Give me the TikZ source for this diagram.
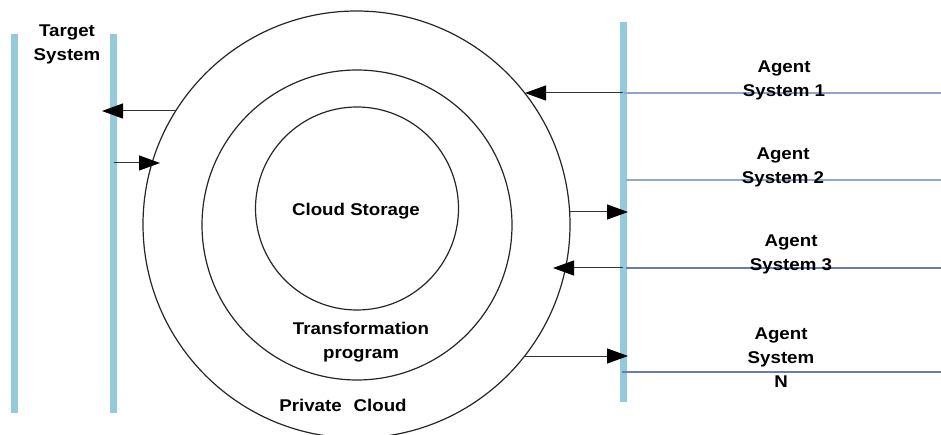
\documentclass[tikz,border=0pt]{standalone}
\usepackage{fontspec}
\setmainfont{Liberation Sans}[FakeStretch=1.1]
\usetikzlibrary{arrows.meta}
\definecolor{barblue}{HTML}{94CBDB}
\definecolor{lineblue}{HTML}{8FA8CC}
\definecolor{lineblueb}{HTML}{6680AA}
\begin{document}
\begin{tikzpicture}[x=1pt,y=-1pt,
  bar/.style={barblue, line width=7pt},
  agentline/.style={lineblue, line width=1.6pt},
  agentlineb/.style={lineblueb, line width=1.6pt},
  ring/.style={circle, draw=black!85, line width=1.2pt, inner sep=0pt},
  flow/.style={black!80, line width=1pt, -{Triangle[length=21pt,width=15pt,fill=black,color=black]}},
  lbl/.style={font=\fontsize{17}{24}\selectfont\bfseries, align=center, inner sep=0pt}]
\useasboundingbox (0,0) rectangle (941,435);

% vertical bars
\coordinate (b1t) at (14,34);  \coordinate (b1b) at (14,413);
\coordinate (b2t) at (113,34); \coordinate (b2b) at (113,413);
\coordinate (b3t) at (623,22); \coordinate (b3b) at (623,402);
\draw[bar] (b1t) -- (b1b);
\draw[bar] (b2t) -- (b2b);
\draw[bar] (b3t) -- (b3b);

% agent lines
\coordinate (h1a) at (624,93);  \coordinate (h1b) at (941,93);
\coordinate (h2a) at (626,180); \coordinate (h2b) at (941,180);
\coordinate (h3a) at (626,268); \coordinate (h3b) at (941,268);
\coordinate (h4a) at (622,372); \coordinate (h4b) at (941,372);
\draw[agentline] (h1a) -- (h1b);
\draw[agentline] (h2a) -- (h2b);
\draw[agentlineb] (h3a) -- (h3b);
\draw[agentlineb] (h4a) -- (h4b);

% circles
\node[ring, minimum size=427pt] (outer) at (356.5,224.5) {};
\node[ring, minimum size=310pt] (middle) at (357,225) {};
\node[ring, minimum size=203pt] (inner) at (357,208.5) {};

% labels
\node[lbl] (target) at (67,44) {Target\\System};
\node[lbl] (ag1) at (784,80) {Agent\\System 1};
\node[lbl] (ag2) at (783,167) {Agent\\System 2};
\node[lbl] (ag3) at (791,254) {Agent\\System 3};
\node[lbl] (agn) at (781,358) {Agent\\System\\N};
\node[lbl] (storage) at (356,211) {Cloud Storage};
\node[lbl] (transf) at (361,342) {Transformation\\program};
\node[lbl] (private) at (343,405) {Private\hspace{12pt}Cloud};

% arrow end points
\coordinate (a1s) at (176,111); \coordinate (a1e) at (102,111);
\coordinate (a2s) at (114,163); \coordinate (a2e) at (160,163);
\coordinate (a3s) at (623,93);  \coordinate (a3e) at (525,93);
\coordinate (a4s) at (570,212); \coordinate (a4e) at (628,212);
\coordinate (a5s) at (623,268); \coordinate (a5e) at (553,268);
\coordinate (a6s) at (525,356); \coordinate (a6e) at (628,356);
\draw[flow] (a1s) -- (a1e);
\draw[flow] (a2s) -- (a2e);
\draw[flow] (a3s) -- (a3e);
\draw[flow] (a4s) -- (a4e);
\draw[flow] (a5s) -- (a5e);
\draw[flow] (a6s) -- (a6e);
\end{tikzpicture}
\end{document}
